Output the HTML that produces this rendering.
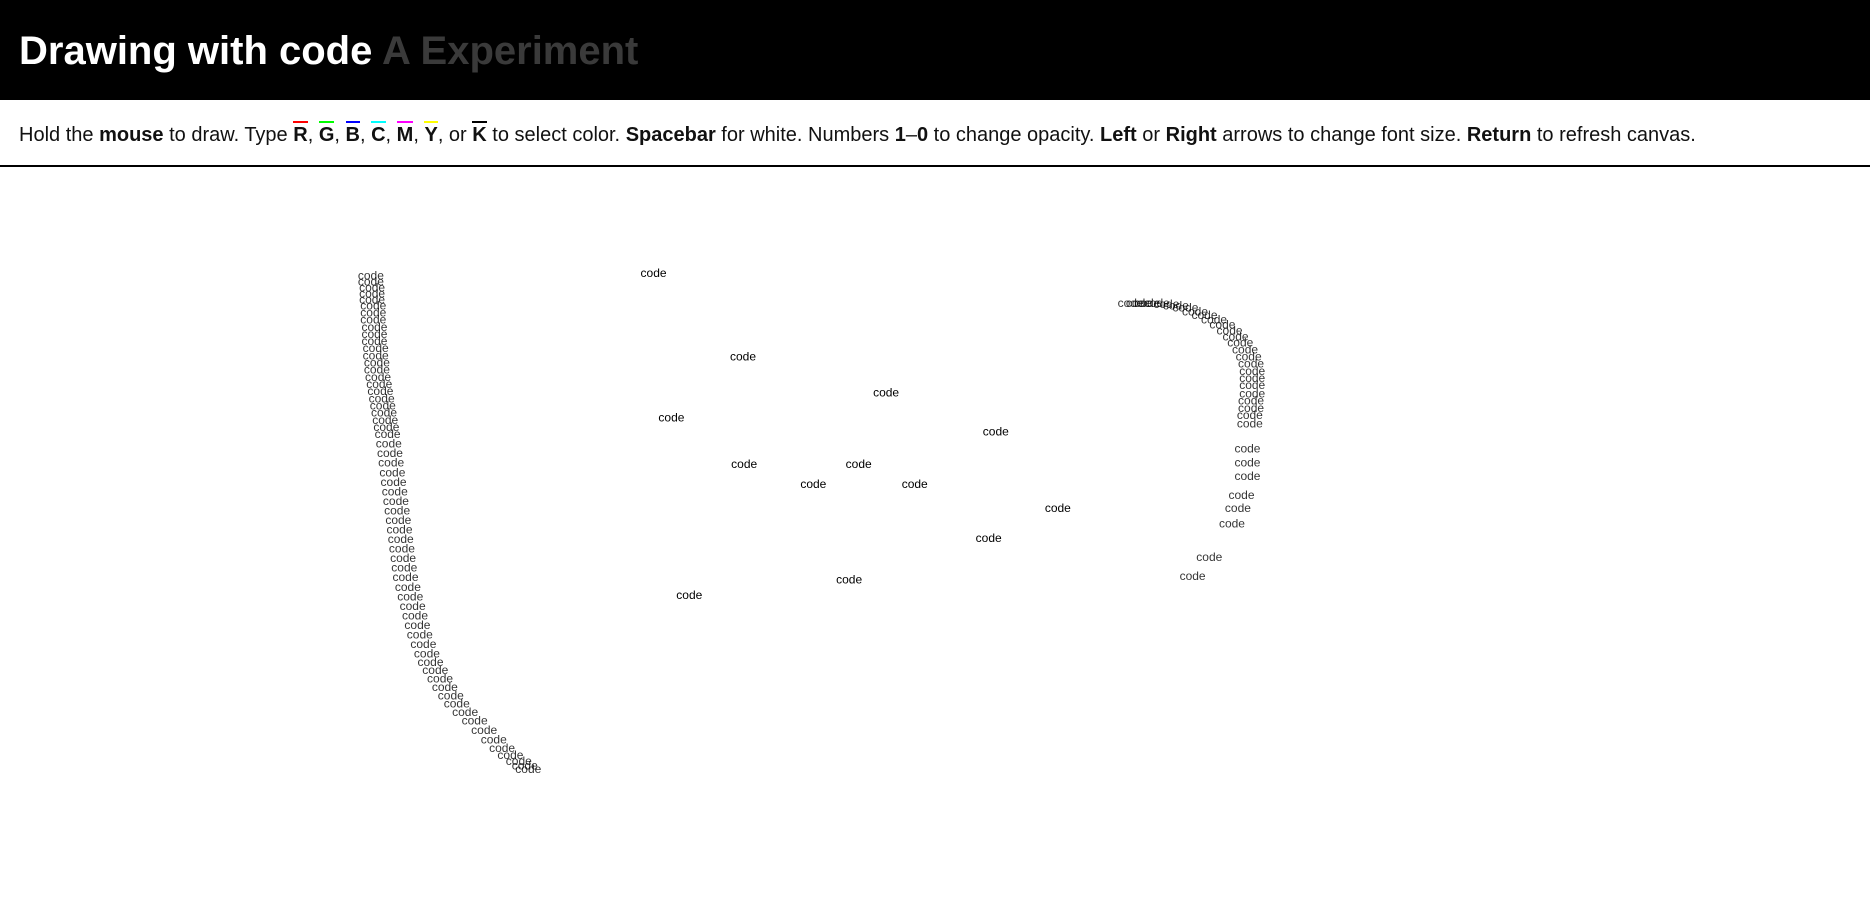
<!DOCTYPE html>
<html><head><meta charset="utf-8"><style>
body{margin:0;width:1870px;height:907px;overflow:hidden;background:#fff;font-family:"Liberation Sans",Arial,sans-serif}
#hdr{position:absolute;left:0;top:0;width:1870px;height:100px;background:#000}
#hdr h1{position:absolute;left:19px;top:27px;margin:0;font-size:40px;font-weight:bold;color:#fff;line-height:48px;letter-spacing:0}
#hdr h1 span{color:#3a3a3a}
#ins{position:absolute;left:19px;top:124px;font-size:20px;color:#111;white-space:nowrap}
#ins b{position:relative}
.u{position:absolute;left:0;right:0;top:-3px;height:2px}
#rule{position:absolute;left:0;top:165px;width:1870px;height:2px;background:#000}
svg{position:absolute;left:0;top:0}
</style></head><body>
<div id="hdr"><h1>Drawing with code <span>A Experiment</span></h1></div>
<div id="ins">Hold the <b>mouse</b> to draw. Type <b>R<i class="u" style="background:#f00"></i></b>, <b>G<i class="u" style="background:#0f0"></i></b>, <b>B<i class="u" style="background:#00f"></i></b>, <b>C<i class="u" style="background:#0ff"></i></b>, <b>M<i class="u" style="background:#f0f"></i></b>, <b>Y<i class="u" style="background:#ff0"></i></b>, or <b>K<i class="u" style="background:#000"></i></b> to select color. <b>Spacebar</b> for white. Numbers <b>1</b>–<b>0</b> to change opacity. <b>Left</b> or <b>Right</b> arrows to change font size. <b>Return</b> to refresh canvas.</div>
<div id="rule"></div>
<svg id="cv" width="1870" height="907"></svg>
<script>
const S=1870/1568;
const leftX=[311,311,312,312,312,313,313,313,314,314,314,315,315,316,316,317,318,319,320,321,322,323,324,325,326,327,328,329,330,331,332,333,334,335,336,337,338,339,340,342,344,346,348,350,352,355,358,361,365,369,373,378,383,390,398,406,414,421,428,435,440,443];
const leftY=[231,236,241,246,251,256,262,268,274,280,286,292,298,304,310,316,322,328,334,340,346,352,358,364,372,380,388,396,404,412,420,428,436,444,452,460,468,476,484,492,500,508,516,524,532,540,548,555,562,569,576,583,590,597,604,612,620,627,633,638,642,645];
const dotX=[548,623,743,563,835,624,720,682,767,887,829,712,578];
const dotY=[229,299,329,350,362,389,389,406,406,426,451,486,499];
const arcX=[948,955,962,970,978,986,994,1002,1010,1018,1025,1031,1036,1040,1044,1047,1049,1050,1050,1050,1050,1049,1049,1048,1048,1046,1046,1046,1041,1038,1033,1014,1000];
const arcY=[254,254,254,254,255,256,258,261,264,268,272,277,282,287,293,299,305,311,317,323,330,336,342,348,355,376,388,399,415,426,439,467,483];
const sx=v=>v*S, sy=v=>v*S;
const svg=document.getElementById('cv');
function put(x,y,op,name){
 const t=document.createElementNS('http://www.w3.org/2000/svg','text');
 t.setAttribute('x',sx(x));t.setAttribute('y',sy(y)+4);
 t.setAttribute('text-anchor','middle');t.setAttribute('font-size','12');
 t.setAttribute('font-family','Liberation Sans, sans-serif');
 t.setAttribute('fill','#000');t.setAttribute('fill-opacity',op);
 t.textContent='code';
 
 
 svg.appendChild(t);
}
leftX.forEach((x,i)=>put(x,leftY[i],0.8,'left-stroke-mark'));
arcX.forEach((x,i)=>put(x,arcY[i],0.8,'right-stroke-mark'));
dotX.forEach((x,i)=>put(x,dotY[i],1,'scattered-mark'));
</script>
</body></html>
